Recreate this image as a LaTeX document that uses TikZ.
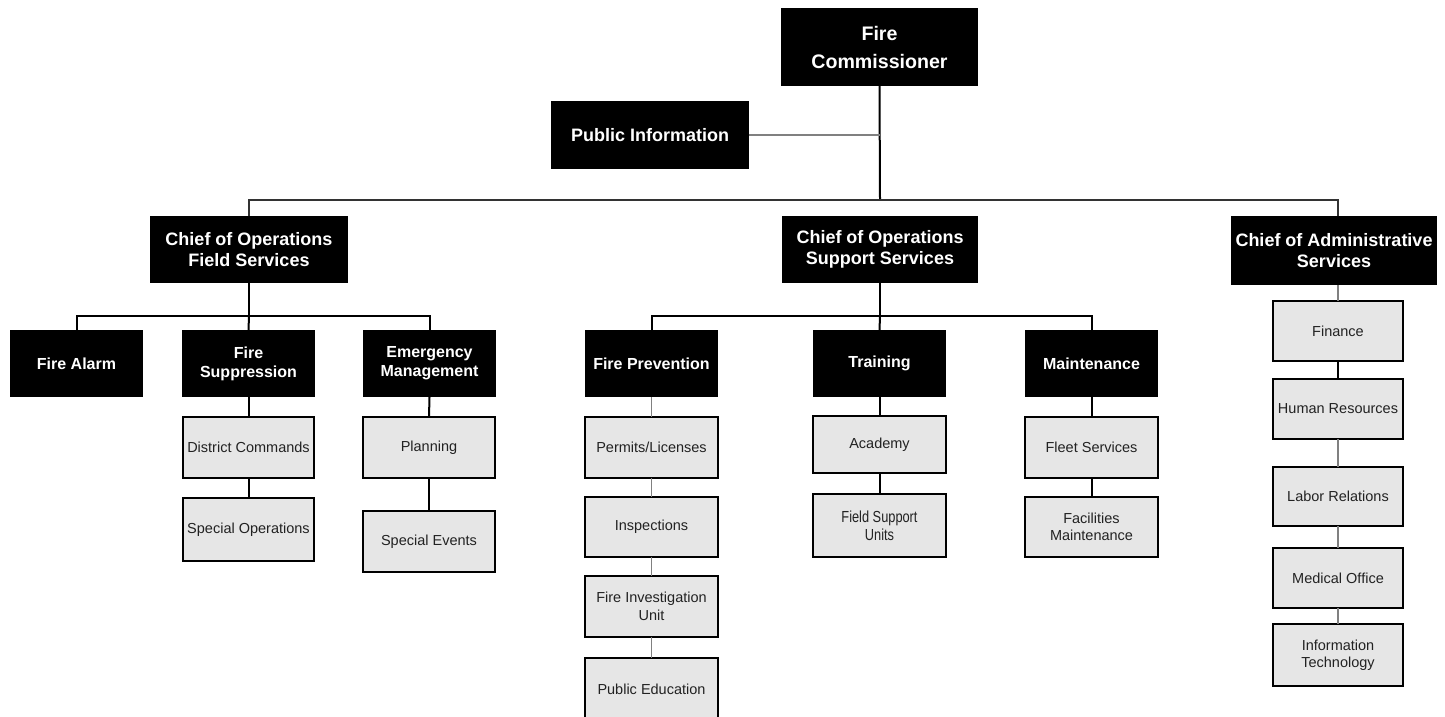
\documentclass[tikz,border=0pt]{standalone}
\usepackage{fontspec}
\setmainfont{Liberation Sans}
\newfontfamily\narrowfont[FakeStretch=0.8]{Liberation Sans}
\definecolor{boxgray}{HTML}{E6E6E6}
\definecolor{linegray}{HTML}{808080}
\definecolor{textgray}{HTML}{222222}
\definecolor{busgray}{HTML}{333333}
\begin{document}
\begin{tikzpicture}[x=1pt,y=-1pt,
  hbox/.style={fill=black,text=white,inner sep=0pt,outer sep=0pt,align=center,font=\fontsize{18}{21}\selectfont\bfseries},
  lbox/.style={hbox,minimum width=133pt,minimum height=67pt,font=\fontsize{16}{19}\selectfont\bfseries},
  sbox/.style={fill=boxgray,draw=black,line width=2pt,text=textgray,inner sep=0pt,outer sep=0pt,align=center,font=\fontsize{14.5}{17.5}\selectfont},
  con/.style={draw=black,line width=2pt},
  bus/.style={draw=busgray,line width=1.3pt},
  gcon/.style={draw=linegray,line width=1.4pt}]
\useasboundingbox (0,0) rectangle (1445,717);
% top
\node[hbox,minimum width=197pt,minimum height=78pt,font=\fontsize{19.6}{28}\selectfont\bfseries] (fc) at (879.5,47) {Fire\\Commissioner};
\node[hbox,minimum width=198pt,minimum height=68pt] (pi) at (650,135) {Public Information};
% chiefs
\node[hbox,minimum width=198pt,minimum height=67pt] (cfs) at (249,249.5) {Chief of Operations\\Field Services};
\node[hbox,minimum width=196pt,minimum height=67pt] (css) at (880,249.5) {Chief of Operations\\Support Services};
\node[hbox,minimum width=206pt,minimum height=69pt] (cas) at (1334,250.5) {Chief of Administrative\\Services};
% field level
\node[lbox] (fa) at (76.5,363.5) {Fire Alarm};
\node[lbox] (fsup) at (248.5,363.5) {Fire\\Suppression};
\node[lbox] (em) at (429.5,363.5) {Emergency\\Management};
\node[sbox,minimum width=131pt,minimum height=61pt] (dc) at (248.5,447.5) {District Commands};
\node[sbox,minimum width=131pt,minimum height=63pt] (so) at (248.5,529.5) {Special Operations};
\node[sbox,minimum width=132pt,minimum height=61pt] (plan) at (429,447.5) {Planning};
\node[sbox,minimum width=132pt,minimum height=61pt] (se) at (429,541.5) {Special Events};
% support level
\node[lbox] (fp) at (651.5,363.5) {Fire Prevention};
\node[lbox] (tr) at (879.5,363.5) {Training};
\node[lbox] (mt) at (1091.5,363.5) {Maintenance};
\node[sbox,minimum width=133pt,minimum height=61pt] (perm) at (651.5,447.5) {Permits/Licenses};
\node[sbox,minimum width=133pt,minimum height=60pt] (insp) at (651.5,527) {Inspections};
\node[sbox,minimum width=133pt,minimum height=61pt] (fiu) at (651.5,606.5) {Fire Investigation\\Unit};
\node[sbox,minimum width=133pt,minimum height=62pt] (pe) at (651.5,689) {Public Education};
\node[sbox,minimum width=133pt,minimum height=57pt] (acad) at (879.5,444.5) {Academy};
\node[sbox,minimum width=133pt,minimum height=63pt,font=\narrowfont\fontsize{16}{18}\selectfont] (fsu) at (879.5,525.5) {Field Support\\Units};
\node[sbox,minimum width=133pt,minimum height=61pt] (fleet) at (1091.5,447.5) {Fleet Services};
\node[sbox,minimum width=133pt,minimum height=60pt] (facm) at (1091.5,527) {Facilities\\Maintenance};
% admin
\node[sbox,minimum width=130pt,minimum height=60pt] (fin) at (1338,331) {Finance};
\node[sbox,minimum width=130pt,minimum height=60pt] (hr) at (1338,409) {Human Resources};
\node[sbox,minimum width=130pt,minimum height=59pt] (lr) at (1338,496.5) {Labor Relations};
\node[sbox,minimum width=130pt,minimum height=60pt] (mo) at (1338,578) {Medical Office};
\node[sbox,minimum width=130pt,minimum height=62pt] (it) at (1338,655) {Information\\Technology};
% coordinates
\coordinate (tj) at (880,200);
\coordinate (castop) at (1338,216);
\coordinate (casbot) at (1338,285);
\coordinate (fj) at (249,316);
\coordinate (sj) at (880,316);
% connectors
\draw[con] (fc.south) -- (tj);
\draw[gcon] (pi.east) -- (pi.east -| fc.south);
\draw[bus] (cfs.north) |- (tj) -| (castop);
\draw[con] (cfs.south) -- (fj);
\draw[con] (fa.north) |- (fj) -| (em.north);
\draw[con] (fj) -- (fsup.north);
\draw[con] (css.south) -- (sj);
\draw[con] (fp.north) |- (sj) -| (mt.north);
\draw[con] (sj) -- (tr.north);
\draw[con] (fsup.south) -- (dc.north);
\draw[con] (dc.south) -- (so.north);
\draw[con] (em.south) -- (plan.north);
\draw[con] (plan.south) -- (se.north);
\draw[gcon] (fp.south) -- (perm.north);
\draw[gcon] (perm.south) -- (insp.north);
\draw[gcon] (insp.south) -- (fiu.north);
\draw[gcon] (fiu.south) -- (pe.north);
\draw[con] (tr.south) -- (acad.north);
\draw[con] (acad.south) -- (fsu.north);
\draw[con] (mt.south) -- (fleet.north);
\draw[con] (fleet.south) -- (facm.north);
\draw[gcon] (casbot) -- (fin.north);
\draw[con] (fin.south) -- (hr.north);
\draw[gcon] (hr.south) -- (lr.north);
\draw[gcon] (lr.south) -- (mo.north);
\draw[gcon] (mo.south) -- (it.north);
\end{tikzpicture}
\end{document}
